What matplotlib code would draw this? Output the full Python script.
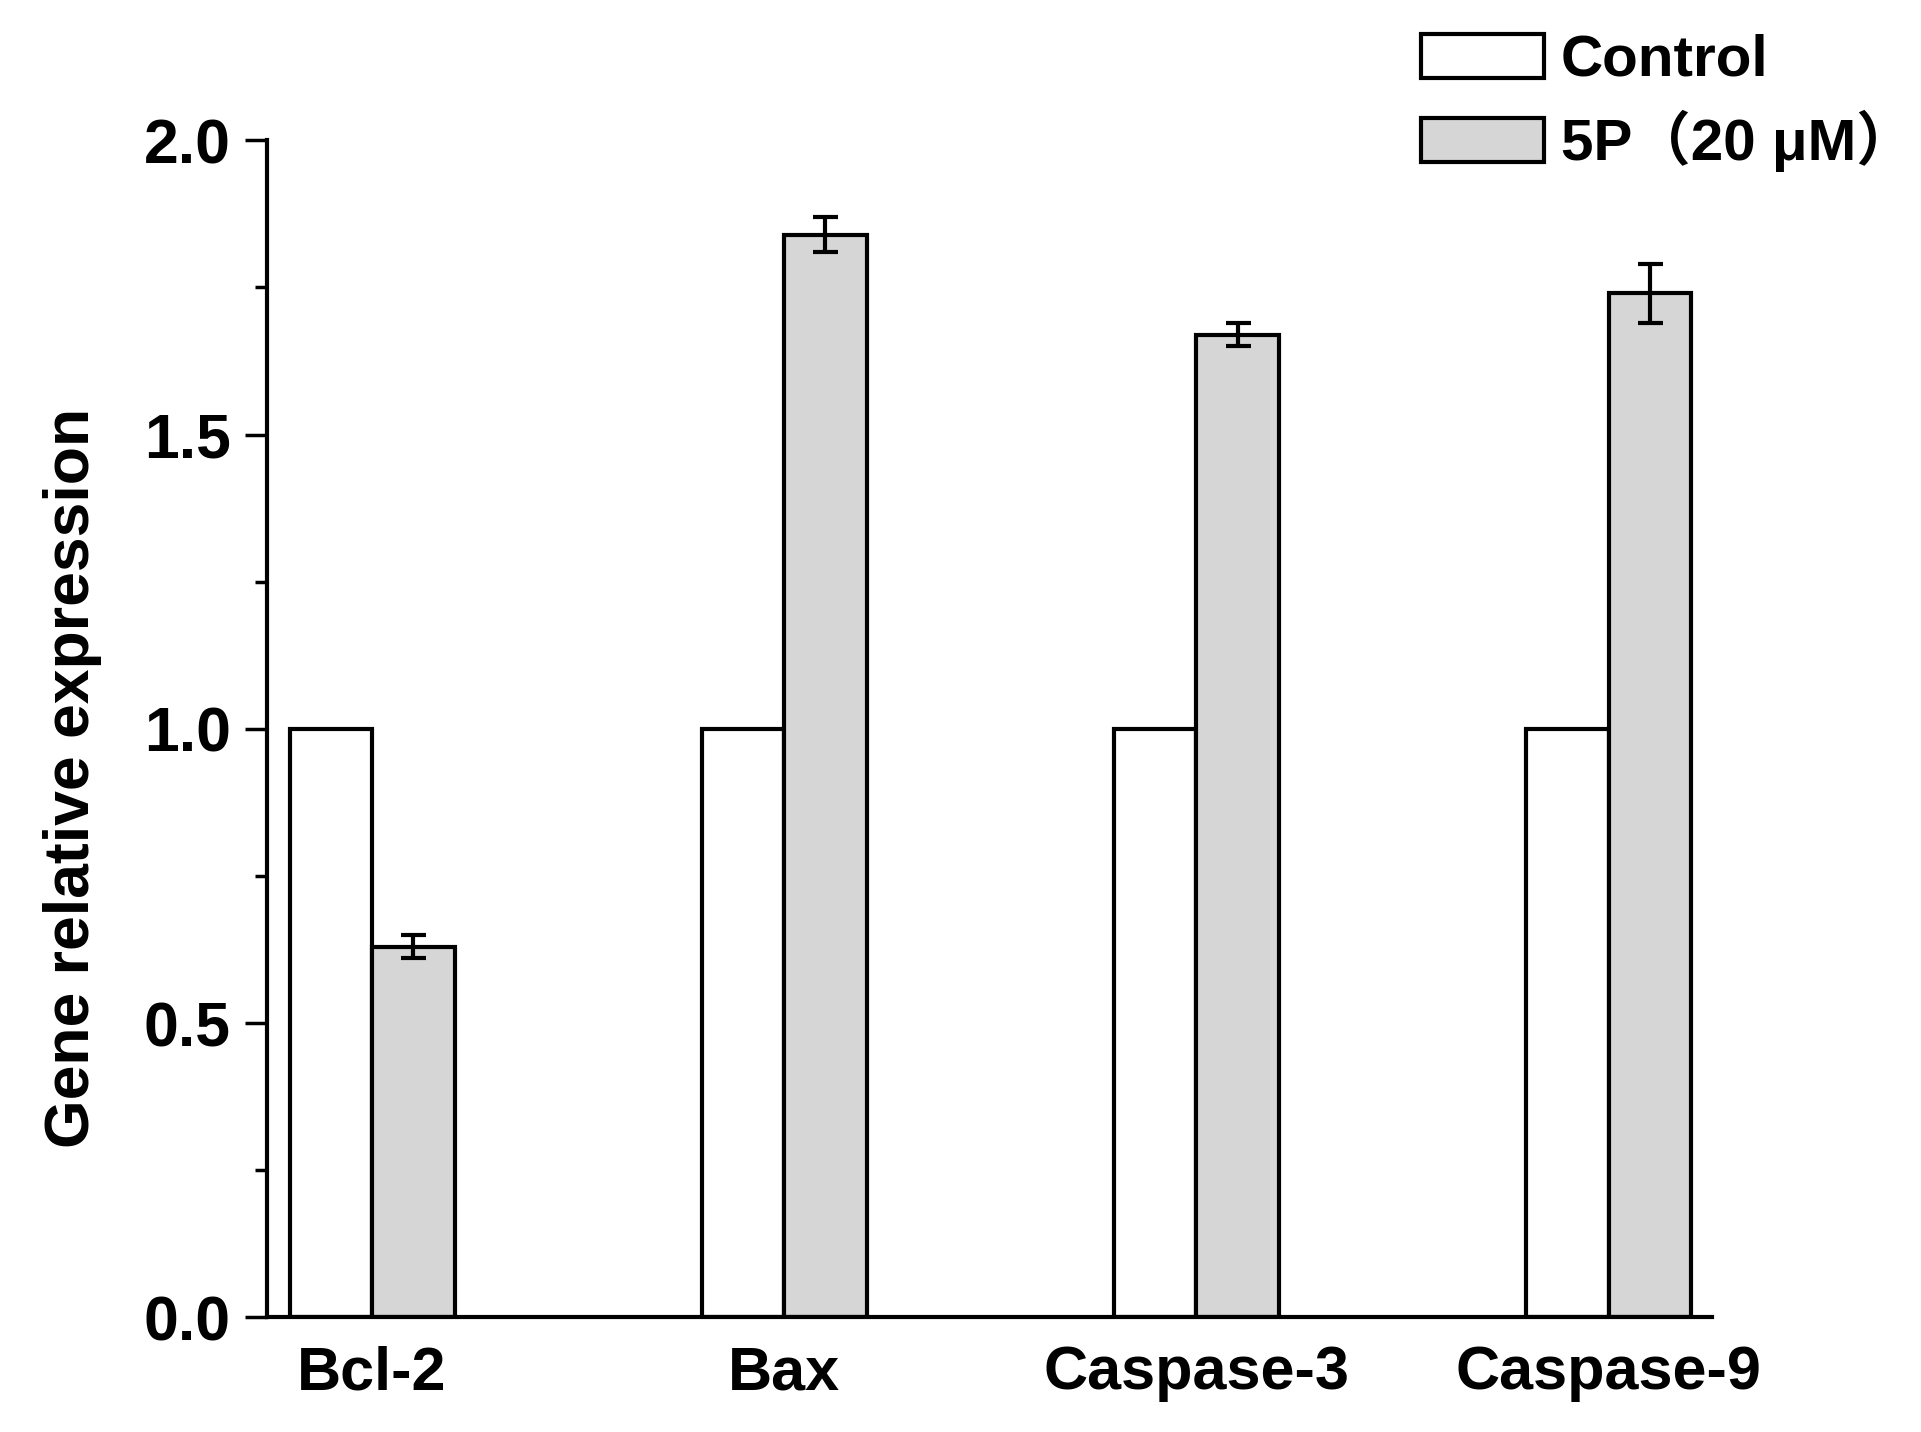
import matplotlib.pyplot as plt
import numpy as np
from matplotlib.ticker import MultipleLocator

# --- данные ---
genes = ['Bcl-2', 'Bax', 'Caspase-3', 'Caspase-9']
control = [1.0, 1.0, 1.0, 1.0]
treated = [0.63, 1.84, 1.67, 1.74]
treated_err = [0.02, 0.03, 0.02, 0.05]
labels = ['Control', '5P\uff0820 \u03bcM\uff09']

COLOR_CONTROL = 'white'
COLOR_TREATED = '#D6D6D6'

plt.rcParams['font.family'] = ['Liberation Sans', 'Noto Sans CJK SC', 'DejaVu Sans']
plt.rcParams['font.weight'] = 'bold'

fig = plt.figure(figsize=(19.21, 14.32), dpi=100)
ax = fig.add_axes([0.139, 0.080, 0.752, 0.822])

x = np.arange(len(genes))
w = 0.2
lw = 3

ax.bar(x - w / 2, control, w, color=COLOR_CONTROL, edgecolor='black', linewidth=lw, label=labels[0])
ax.bar(x + w / 2, treated, w, color=COLOR_TREATED, edgecolor='black', linewidth=lw, label=labels[1],
       yerr=treated_err, error_kw=dict(ecolor='black', elinewidth=3, capsize=9, capthick=3))

ax.set_xlim(-0.255, 3.25)
ax.set_ylim(0, 2.0)
ax.set_xticks(x)
ax.set_xticklabels(genes, fontsize=44, fontweight='bold')
ax.yaxis.set_major_locator(MultipleLocator(0.5))
ax.yaxis.set_minor_locator(MultipleLocator(0.25))
ax.tick_params(axis='y', which='major', direction='out', length=16, width=2.5, labelsize=45, pad=10)
ax.tick_params(axis='y', which='minor', direction='out', length=8.5, width=2.5)
ax.tick_params(axis='x', length=0, pad=20)
for t in ax.get_yticklabels():
    t.set_fontweight('bold')

ax.spines['top'].set_visible(False)
ax.spines['right'].set_visible(False)
ax.spines['left'].set_linewidth(lw)
ax.spines['bottom'].set_linewidth(lw)

ax.set_ylabel('Gene relative expression', fontsize=45, fontweight='bold')
ax.yaxis.set_label_coords(-0.114, 0.458)

leg = fig.legend(loc='upper right', bbox_to_anchor=(1.018, 1.005), frameon=False,
                 prop={'size': 42, 'weight': 'bold'}, handlelength=2.1, handleheight=0.78,
                 handletextpad=0.3, labelspacing=0.38, borderaxespad=0.3)
for p in leg.get_patches():
    p.set_linewidth(lw)

fig.savefig('out.png', dpi=100)
